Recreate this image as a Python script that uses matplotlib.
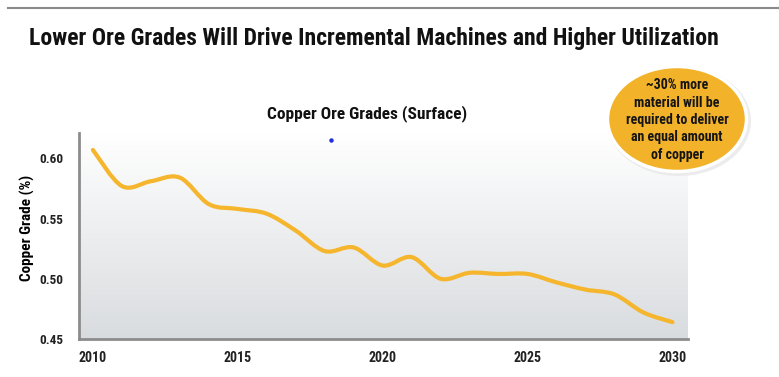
import numpy as np
import matplotlib
matplotlib.use("Agg")
import matplotlib.pyplot as plt
from matplotlib import font_manager
from matplotlib.path import Path
from matplotlib.patches import PathPatch, Ellipse

# copper ore grade by year
years = [2010, 2011, 2012, 2013, 2014, 2015, 2016, 2017, 2018, 2019, 2020,
         2021, 2022, 2023, 2024, 2025, 2026, 2027, 2028, 2029, 2030]
grade = [0.607, 0.577, 0.581, 0.584, 0.562, 0.558, 0.554, 0.540, 0.523, 0.526, 0.511,
         0.518, 0.500, 0.505, 0.504, 0.504, 0.497, 0.491, 0.487, 0.472, 0.464]
xticks = [2010, 2015, 2020, 2025, 2030]
yticks = [0.45, 0.50, 0.55, 0.60]
callout = "~30% more\nmaterial will be\nrequired to deliver\nan equal amount\nof copper"

# look for a narrow bold face like Arial Narrow, else fall back
names = {f.name for f in font_manager.fontManager.ttflist}
font, k = "Liberation Sans", 0.82
for cand in ["Liberation Sans Narrow", "Roboto Condensed", "PT Sans Narrow"]:
    if cand in names:
        font, k = cand, 1.0
        break
plt.rcParams['font.family'] = [font, 'DejaVu Sans']
plt.rcParams['font.weight'] = 'bold'

fig = plt.figure(figsize=(7.79, 3.77), dpi=100)
fig.patch.set_facecolor("white")

# top rule and title
fig.add_artist(plt.Line2D([0.01, 1.0], [0.978, 0.978], color="#8a8a8a", lw=1.5))
fig.text(0.037, 0.897, "Lower Ore Grades Will Drive Incremental Machines and Higher Utilization",
         fontsize=17 * k, fontweight="bold", color="#111111", va="center", ha="left")
fig.text(0.471, 0.70, "Copper Ore Grades (Surface)", fontsize=12.5 * k,
         fontweight="bold", ha="center", va="center", color="#111111")

ax = fig.add_axes([0.1014, 0.1008, 0.7812, 0.5462])
ax.set_xlim(2009.52, 2030.52)
ax.set_ylim(0.45, 0.621)

# gradient background
grad = np.linspace(0, 1, 256).reshape(-1, 1)
ax.imshow(grad, extent=[2009.52, 2030.52, 0.45, 0.621], aspect="auto",
          cmap=matplotlib.colors.LinearSegmentedColormap.from_list("g", ["#ffffff", "#d9dcdf"]),
          origin="upper", zorder=0)

# smoothed line (bezier through the yearly points)
x = np.array(years, float)
y = np.array(grade, float)
verts = [(x[0], y[0])]
codes = [Path.MOVETO]
for i in range(len(x) - 1):
    p0 = (x[i - 1], y[i - 1]) if i > 0 else (x[i], y[i])
    p3 = (x[i + 2], y[i + 2]) if i + 2 < len(x) else (x[i + 1], y[i + 1])
    c1 = (x[i] + (x[i + 1] - p0[0]) / 6, y[i] + (y[i + 1] - p0[1]) / 6)
    c2 = (x[i + 1] - (p3[0] - x[i]) / 6, y[i + 1] - (p3[1] - y[i]) / 6)
    verts += [c1, c2, (x[i + 1], y[i + 1])]
    codes += [Path.CURVE4] * 3
ax.add_patch(PathPatch(Path(verts, codes), facecolor="none", edgecolor="#f5b52c",
                       lw=3, capstyle="round", zorder=3))

# stray blue dot in the original
ax.plot([2018.2], [0.6155], "o", color="#1f2fe0", ms=2.2, zorder=4)

for s in ["top", "right"]:
    ax.spines[s].set_visible(False)
for s in ["left", "bottom"]:
    ax.spines[s].set_color("#8c8c8c")
    ax.spines[s].set_linewidth(2)
ax.set_xticks(xticks)
ax.set_xticklabels([str(t) for t in xticks])
ax.set_yticks(yticks)
ax.set_yticklabels(["%.2f" % t for t in yticks])
ax.tick_params(axis="x", length=0, labelsize=10 * k, pad=9)
ax.tick_params(axis="y", length=0, labelsize=9.5 * k, pad=11)
for lab in ax.get_xticklabels() + ax.get_yticklabels():
    lab.set_fontweight("bold")
    lab.set_color("#222222")
ax.set_ylabel("Copper Grade (%)", fontsize=11 * k, fontweight="bold")
ax.yaxis.set_label_coords(-0.072, 0.54)

# callout bubble
bx = fig.add_axes([0, 0, 1, 1], facecolor="none")
bx.set_xlim(0, 779)
bx.set_ylim(377, 0)
bx.axis("off")
bx.add_patch(Ellipse((679, 121), 144, 110, facecolor="#e8e8e8", edgecolor="none", alpha=0.8))
bx.add_patch(Ellipse((677, 119), 139, 105, facecolor="#f2b32b", edgecolor="white", lw=2.5))
bx.text(677, 120, callout, ha="center", va="center", fontsize=10 * k,
        fontweight="bold", color="#151515", linespacing=1.3)

fig.savefig("out.png", dpi=100)
